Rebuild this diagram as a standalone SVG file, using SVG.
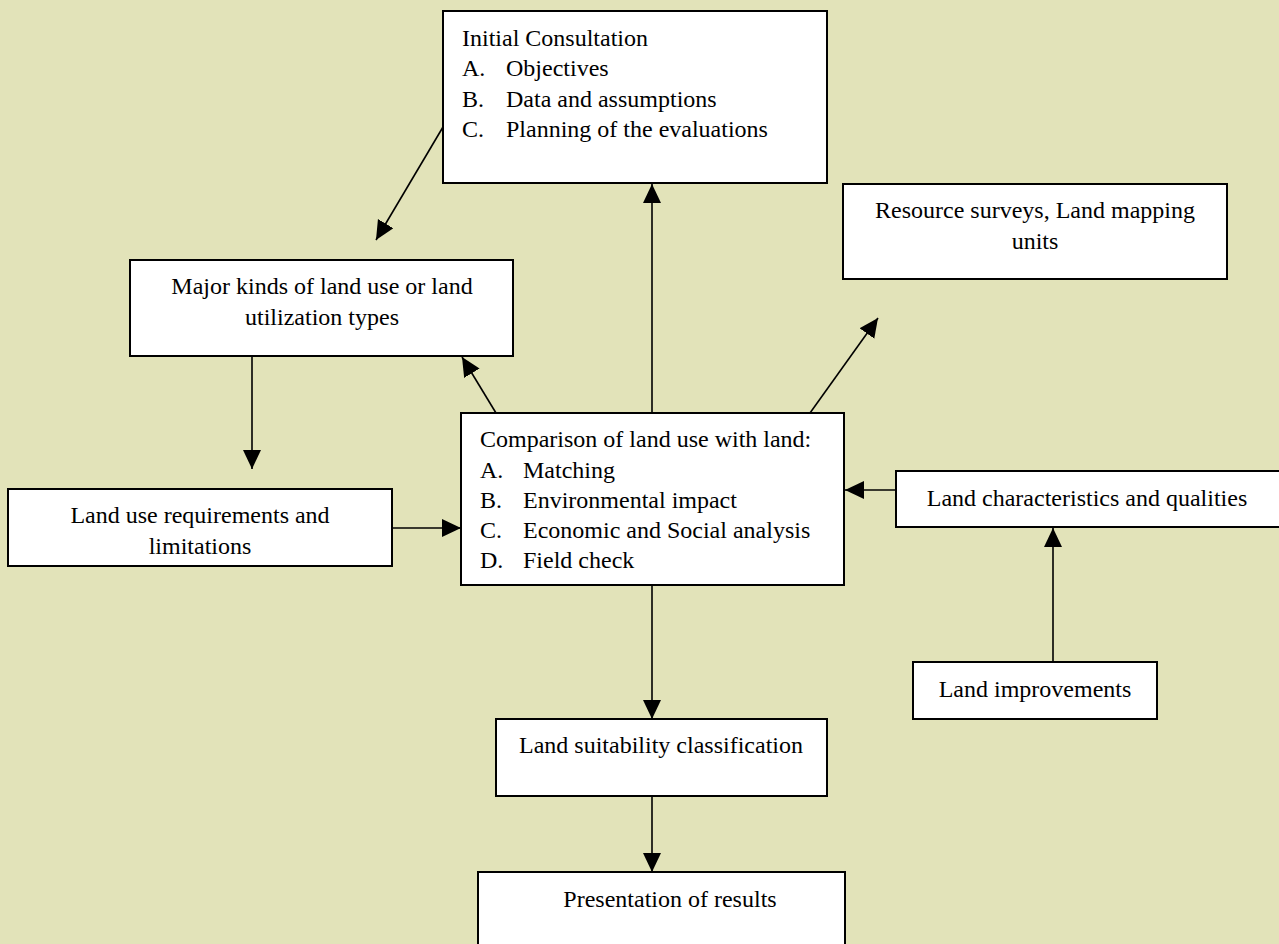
<svg xmlns="http://www.w3.org/2000/svg" width="1279" height="944" viewBox="0 0 1279 944">
<style>
.box{fill:#ffffff;stroke:#000000;stroke-width:2}
.t{font-family:"Liberation Serif","Times New Roman",serif;font-size:24px;fill:#000000}
.c{text-anchor:middle}
.ln{stroke:#000000;stroke-width:1.6;fill:none;marker-end:url(#ah)}
</style>
<defs>
<marker id="ah" markerUnits="userSpaceOnUse" markerWidth="20" markerHeight="20" refX="19" refY="9" orient="auto">
<path d="M0,0 L19,9 L0,18 z" fill="#000000"/>
</marker>
</defs>
<rect x="0" y="0" width="1279" height="944" fill="#e2e3b9"/>
<g id="connectors">
<line class="ln" x1="443" y1="127" x2="376" y2="240"/>
<line class="ln" x1="652" y1="413" x2="652" y2="184"/>
<line class="ln" x1="496" y1="413" x2="462" y2="357"/>
<line class="ln" x1="810" y1="413" x2="878" y2="318"/>
<line class="ln" x1="252" y1="356" x2="252" y2="469"/>
<line class="ln" x1="392" y1="528" x2="461" y2="528"/>
<line class="ln" x1="896" y1="490" x2="845" y2="490"/>
<line class="ln" x1="1053" y1="662" x2="1053" y2="528"/>
<line class="ln" x1="652" y1="585" x2="652" y2="719"/>
<line class="ln" x1="652" y1="796" x2="652" y2="872"/>
</g>
<g id="initial">
<rect class="box" x="443" y="11" width="384" height="172"/>
<text class="t" x="462" y="46">Initial Consultation</text>
<text class="t" x="462" y="76">A.</text><text class="t" x="506" y="76">Objectives</text>
<text class="t" x="462" y="107">B.</text><text class="t" x="506" y="107">Data and assumptions</text>
<text class="t" x="462" y="137">C.</text><text class="t" x="506" y="137">Planning of the evaluations</text>
</g>
<g id="resource">
<rect class="box" x="843" y="184" width="384" height="95"/>
<text class="t c" x="1035" y="218">Resource surveys, Land mapping</text>
<text class="t c" x="1035" y="249">units</text>
</g>
<g id="major">
<rect class="box" x="130" y="260" width="383" height="96"/>
<text class="t c" x="322" y="294">Major kinds of land use or land</text>
<text class="t c" x="322" y="325">utilization types</text>
</g>
<g id="requirements">
<rect class="box" x="8" y="489" width="384" height="77"/>
<text class="t c" x="200" y="523">Land use requirements and</text>
<text class="t c" x="200" y="554">limitations</text>
</g>
<g id="comparison">
<rect class="box" x="461" y="413" width="383" height="172"/>
<text class="t" x="480" y="447">Comparison of land use with land:</text>
<text class="t" x="480" y="478">A.</text><text class="t" x="523" y="478">Matching</text>
<text class="t" x="480" y="508">B.</text><text class="t" x="523" y="508">Environmental impact</text>
<text class="t" x="480" y="538">C.</text><text class="t" x="523" y="538">Economic and Social analysis</text>
<text class="t" x="480" y="568">D.</text><text class="t" x="523" y="568">Field check</text>
</g>
<g id="characteristics">
<rect class="box" x="896" y="471" width="384" height="56"/>
<text class="t c" x="1087" y="506">Land characteristics and qualities</text>
</g>
<g id="improvements">
<rect class="box" x="913" y="662" width="244" height="57"/>
<text class="t c" x="1035" y="697">Land improvements</text>
</g>
<g id="suitability">
<rect class="box" x="496" y="719" width="331" height="77"/>
<text class="t c" x="661" y="753">Land suitability classification</text>
</g>
<g id="presentation">
<rect class="box" x="478" y="872" width="367" height="90"/>
<text class="t c" x="670" y="907">Presentation of results</text>
</g>
</svg>
